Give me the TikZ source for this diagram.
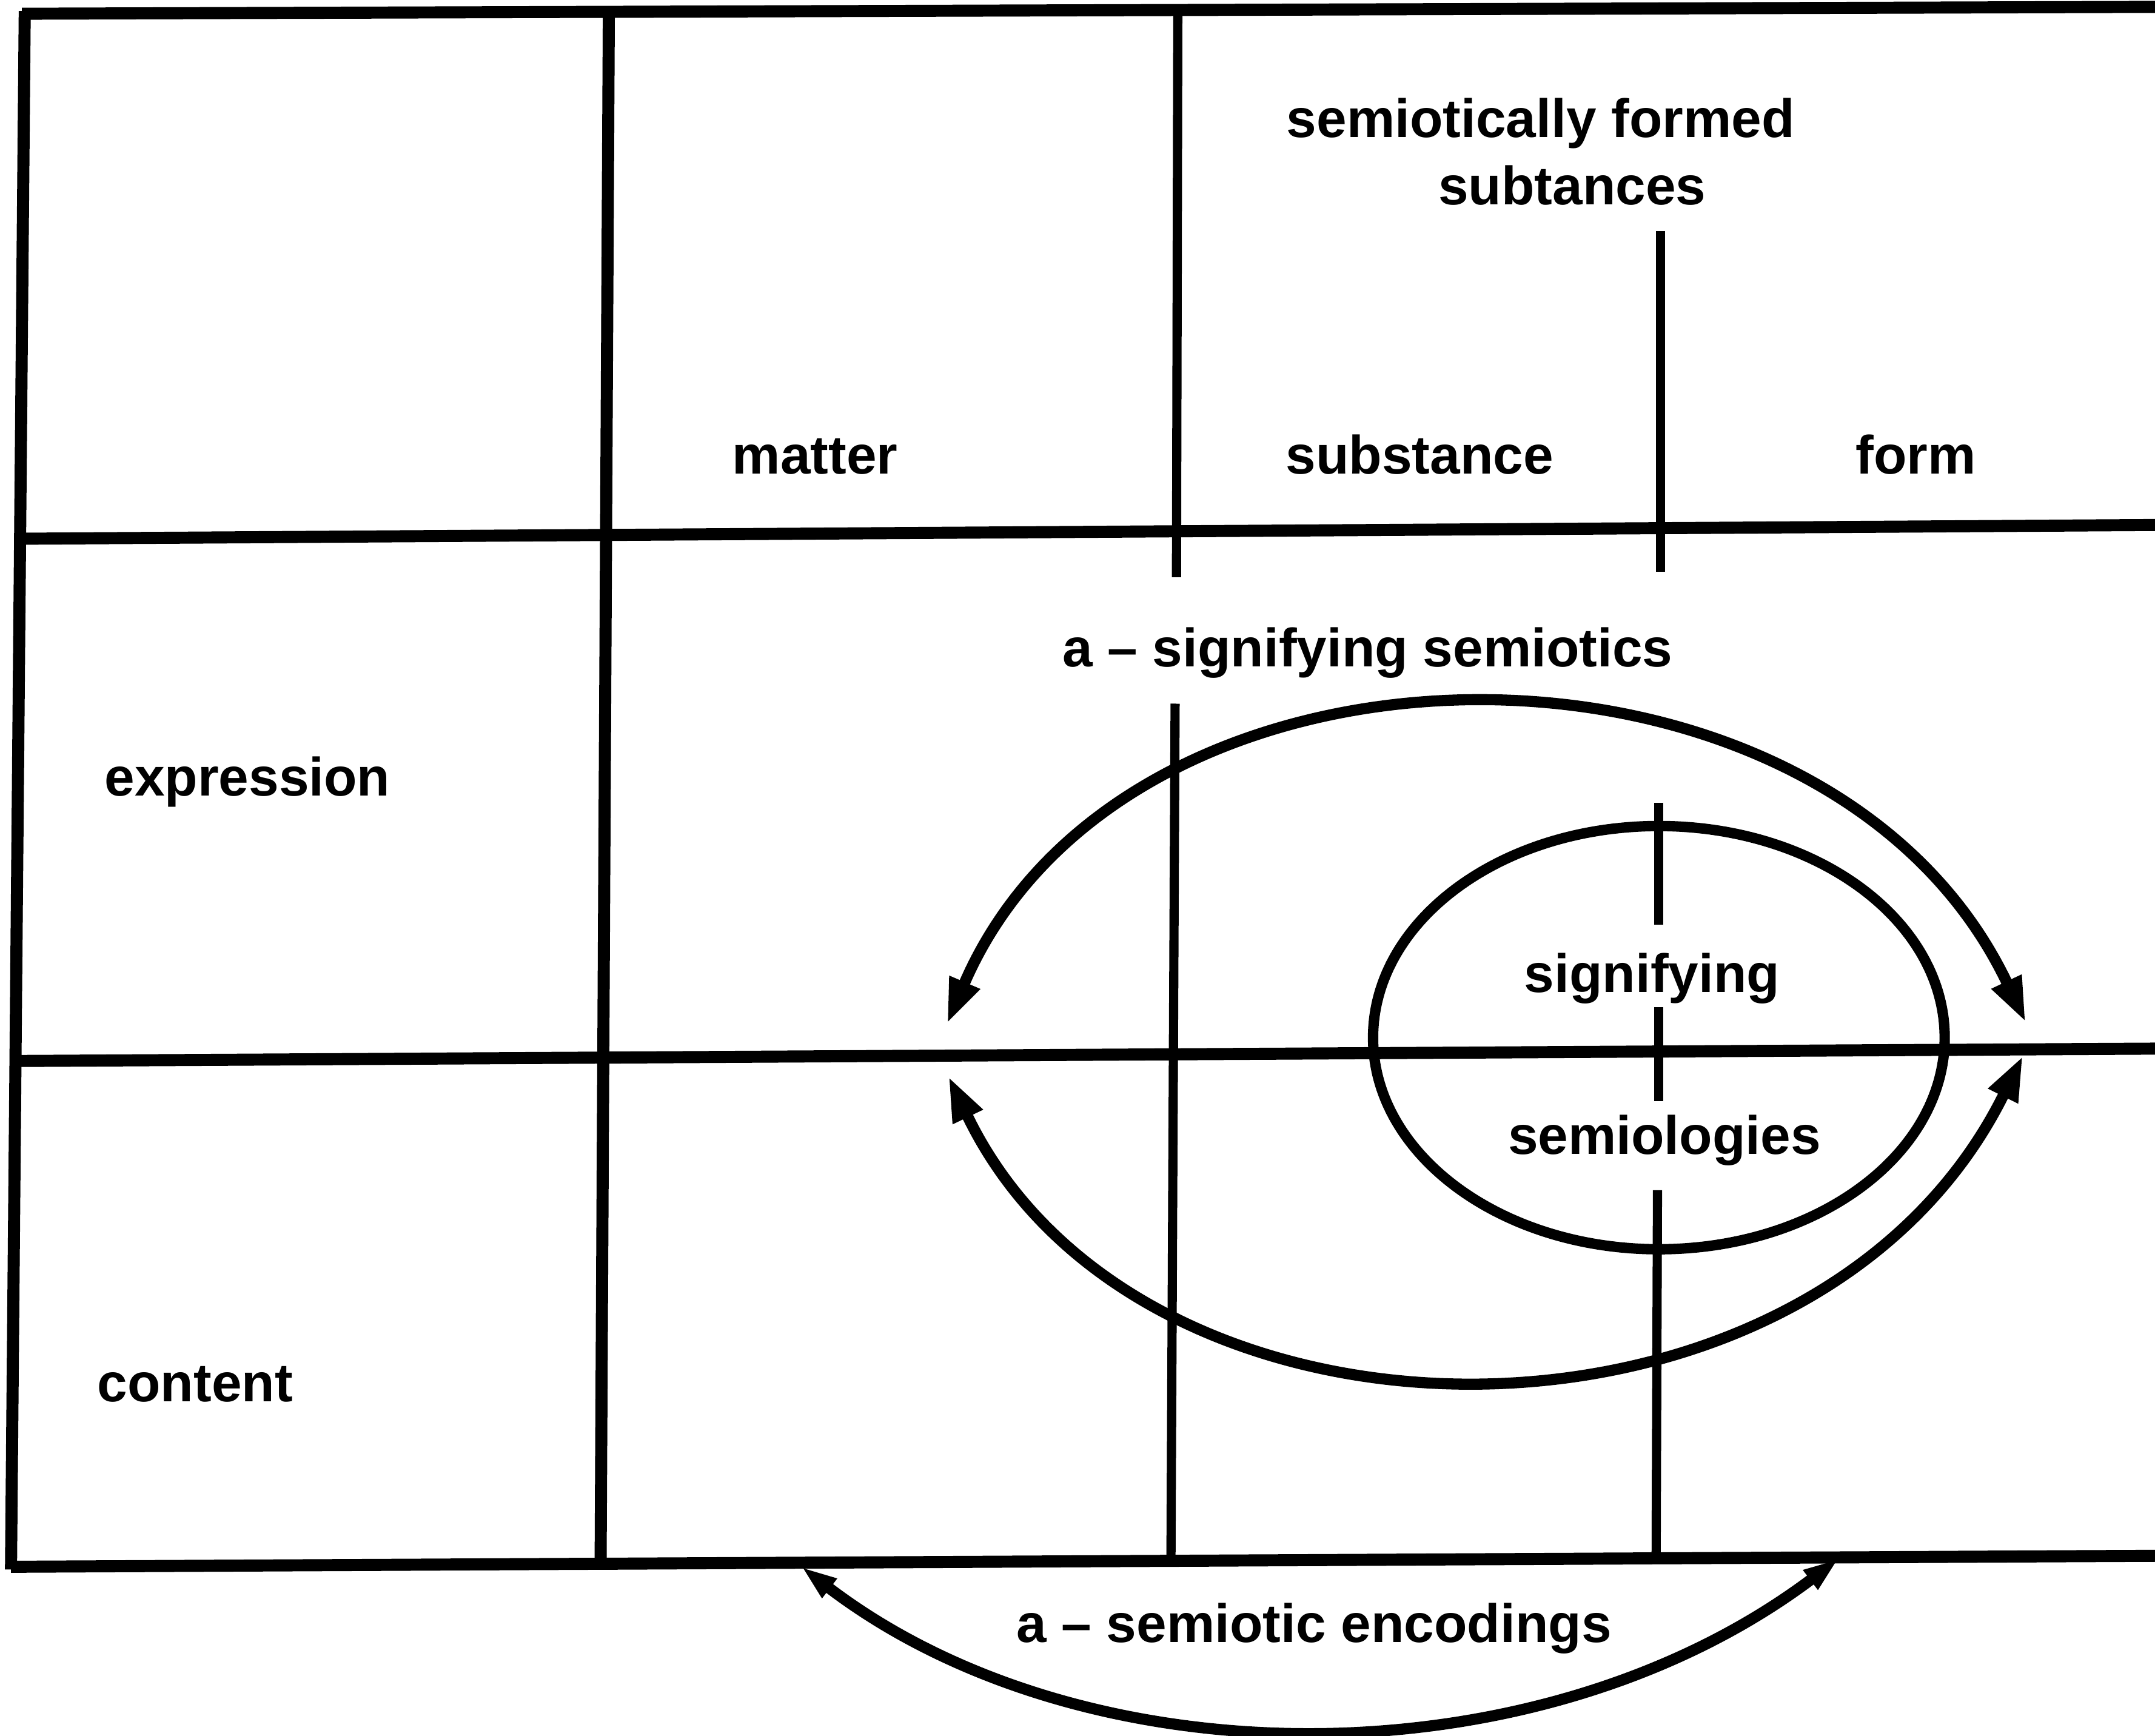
\documentclass[tikz,border=0pt]{standalone}
\usepackage{fontspec}
\setmainfont{Liberation Sans}
\usetikzlibrary{arrows.meta}
\tikzset{
  lbl/.style={font=\fontsize{22.4}{28}\selectfont\bfseries, inner sep=0pt, anchor=base},
  frame/.style={line width=5pt},
  divider/.style={line width=3.8pt},
  ring/.style={line width=4.3pt},
  bigarc/.style={line width=4.6pt, {Triangle[length=0.66cm,width=0.44cm]}-{Triangle[length=0.66cm,width=0.44cm]}},
  encarc/.style={line width=4.6pt, {Triangle[length=0.52cm,width=0.32cm]}-{Triangle[length=0.52cm,width=0.32cm]}},
}

\begin{document}
\begin{tikzpicture}[x=0.02cm, y=-0.02cm]
    \useasboundingbox (0,0) rectangle (1568,1263);
    \draw[frame] (16,10) -- (1568,5);
    \draw[frame] (14,392) -- (1568,382);
    \draw[frame] (12,772) -- (1568,763);
    \draw[frame] (8,1140) -- (1568,1132);
    \draw[frame] (18,8) -- (8,1142);
    \draw[frame] (443,8) -- (437,1138);
    \draw[divider] (857,7) -- (856,420);
    \draw[divider] (855,512) -- (852,1132);
    \draw[divider] (1208,168) -- (1208,416);
    \draw[divider] (1207,584) -- (1207,673);
    \draw[divider] (1207,733) -- (1207,801);
    \draw[divider] (1206,866) -- (1205,1134);
    \draw[ring] (1207,755) ellipse [x radius=4.16cm, y radius=3.08cm];
    \node[lbl] (sfs1) at (1121,100) {semiotically formed};
    \node[lbl] (sfs2) at (1144,149) {subtances};
    \node[lbl] (matter) at (593,345) {matter};
    \node[lbl] (substance) at (1033,345) {substance};
    \node[lbl] (form) at (1394,345) {form};
    \node[lbl] (asign) at (995,485) {a -- signifying semiotics};
    \node[lbl] (expression) at (180,579) {expression};
    \node[lbl] (content) at (142,1020) {content};
    \node[lbl] (signifying) at (1202,722) {signifying};
    \node[lbl] (semiologies) at (1211,840) {semiologies};
    \node[lbl] (aenc) at (956,1195) {a -- semiotic encodings};
    \coordinate (upL) at (689,745);
    \coordinate (upR) at (1474,744);
    \coordinate (loL) at (690,783);
    \coordinate (loR) at (1472,768);
    \coordinate (encL) at (583,1140);
    \coordinate (encR) at (1338,1134);
    \draw[bigarc] (upL) .. controls (820,440) and (1330,440) .. (upR);
    \draw[bigarc] (loL) .. controls (830,1075) and (1320,1075) .. (loR);
    \draw[encarc] (encL) .. controls (790,1298) and (1120,1298) .. (encR);
  \end{tikzpicture}
\end{document}
